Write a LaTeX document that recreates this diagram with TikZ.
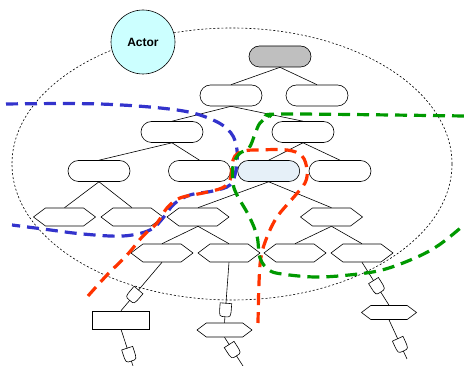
\documentclass[tikz,border=0pt]{standalone}
\usepackage{fontspec}
\setsansfont{Liberation Sans}
\usetikzlibrary{shapes.misc, shapes.symbols, calc}
\definecolor{actorCyan}{HTML}{CCFFFF}
\definecolor{focusBlue}{HTML}{E6F0F8}
\definecolor{zoneBlue}{HTML}{3333CC}
\definecolor{zoneRed}{HTML}{FF3300}
\definecolor{zoneGreen}{HTML}{009900}

\begin{document}
\begin{tikzpicture}[
  x=1pt, y=-1pt,
  goal/.style={draw, rounded rectangle, minimum width=62pt, minimum height=21pt, inner sep=0pt, line width=0.6pt},
  topgoal/.style={goal, fill=gray!50},
  focus/.style={goal, fill=focusBlue},
  hexa/.style={draw, signal, signal to=east and west, signal pointer angle=74, minimum width=62pt, minimum height=18pt, inner sep=0pt, line width=0.6pt},
  smallhexa/.style={hexa, minimum width=55pt, minimum height=14pt},
  plain/.style={draw, rectangle, minimum width=57pt, minimum height=18pt, inner sep=0pt, line width=0.6pt},
  actor/.style={draw, circle, fill=actorCyan, minimum size=64pt, inner sep=0pt, line width=0.6pt, font=\sffamily\bfseries\fontsize{12}{14}\selectfont},
  gate/.style={rectangle, fill=white, minimum width=13pt, minimum height=11pt, inner sep=0pt, sloped, allow upside down},
  tie/.style={line width=0.6pt},
  zone/.style={line width=3.2pt, dash pattern=on 12pt off 7pt}
]
\useasboundingbox (0,0) rectangle (464,366);
\draw[dash pattern=on 2pt off 2pt, line width=0.6pt] (232,164) ellipse [x radius=220, y radius=136];
\node[actor] (actor) at (143,42) {Actor};
\node[topgoal] (g0) at (280,56.5) {};
\node[goal] (g1) at (231,95.5) {};
\node[goal] (g2) at (317,95.5) {};
\node[goal] (g11) at (172,132) {};
\node[goal] (g12) at (303,132) {};
\node[goal] (g111) at (99,171) {};
\node[goal] (g112) at (199.5,171) {};
\node[focus] (g121) at (268.7,171) {};
\node[goal] (g122) at (340,171) {};
\node[hexa] (h1) at (64.5,217) {};
\node[hexa] (h2) at (132,217) {};
\node[hexa] (h3) at (198,217) {};
\node[hexa] (h4) at (331.5,217) {};
\node[hexa] (h31) at (162,253) {};
\node[hexa] (h32) at (229,253) {};
\node[hexa] (h41) at (295,253) {};
\node[hexa] (h42) at (362,253) {};
\node[plain] (r1) at (121,320) {};
\node[smallhexa] (h321) at (224.5,330) {};
\node[smallhexa] (h421) at (389,312.5) {};
\coordinate (e1) at (133,366);
\coordinate (e2) at (243,366);
\coordinate (e3) at (407,359);
\foreach \a/\b in {g0/g1, g0/g2, g1/g11, g1/g12, g11/g111, g11/g112, g12/g121, g12/g122,
                   g111/h1, g111/h2, g121/h3, g121/h4, h3/h31, h3/h32, h4/h41, h4/h42}
  \draw[tie] (\a.south) -- (\b.north);
\draw[tie] (h31.south) -- node[gate, pos=0.68] (q1) {} (r1.north);
\draw[tie] (r1.south) -- node[gate, pos=0.69] (q2) {} (e1);
\draw[tie] (h32.south) -- node[gate, pos=0.79] (q3) {} (h321.north);
\draw[tie] (h321.south) -- node[gate, pos=0.45] (q4) {} (e2);
\draw[tie] (h42.south) -- node[gate, pos=0.56] (q5) {} (h421.north);
\draw[tie] (h421.south) -- node[gate, pos=0.64] (q6) {} (e3);
\foreach \q in {q1,q2,q3,q4,q5,q6}
  \draw[tie] (\q.north west) -- (\q.south west) -- ($(\q.south west)!0.25!(\q.south east)$)
    .. controls (\q.south east) and (\q.south east) .. (\q.east)
    .. controls (\q.north east) and (\q.north east) .. ($(\q.north west)!0.25!(\q.north east)$) -- cycle;
\draw[zone, zoneBlue] plot[smooth, tension=0.6] coordinates {(6,104) (100,104) (177,110) (213,120) (231,133) (237,150) (236,170) (230,185) (213,191) (190,195) (174,204) (163,218) (150,230) (123,236) (83,234) (43,229) (12,225)};
\draw[zone, zoneRed] plot[smooth, tension=0.6] coordinates {(88,296) (107,275) (127,255) (143,236) (157,223) (167,208) (180,198) (203,193) (222,188) (230,180) (232,165) (235,156) (243,151) (257,150) (287,150) (302,156) (307,170) (305,183) (293,198) (277,217) (267,237) (261,257) (259,283) (258,323)};
\draw[zone, zoneGreen] plot[smooth, tension=0.6] coordinates {(464,116) (285,114) (269,117) (260,123) (255,134) (249,148) (239,154) (233,166) (233,183) (237,195) (249,216) (257,236) (260,258) (269,270) (282,274) (315,277) (349,275) (382,270) (415,258) (439,245) (464,225)};
\end{tikzpicture}
\end{document}
